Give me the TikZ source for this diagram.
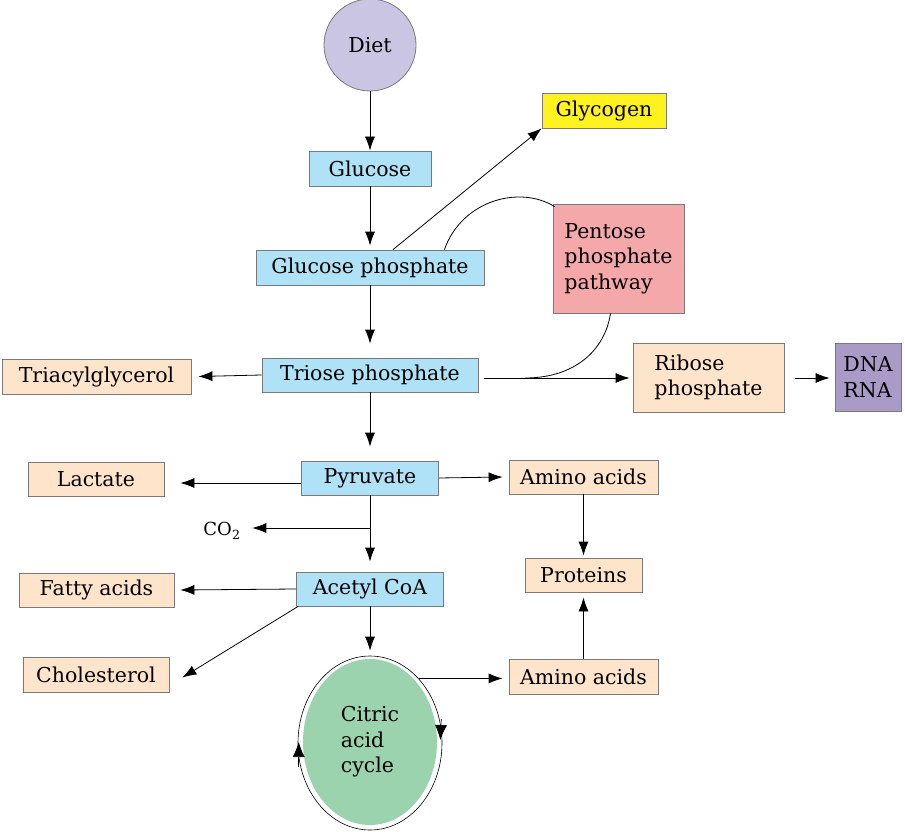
\documentclass[tikz,border=0pt]{standalone}
\usepackage{fontspec}
\setmainfont{DejaVu Serif}
\usetikzlibrary{calc,arrows.meta,positioning,shapes.geometric}

\definecolor{dietlav}{HTML}{C9C5E3}
\definecolor{glublue}{HTML}{B0E2F7}
\definecolor{glyyel}{HTML}{FFF21E}
\definecolor{pentpink}{HTML}{F4A8AA}
\definecolor{peach}{HTML}{FFE4CC}
\definecolor{nucpurp}{HTML}{A99AC6}
\definecolor{tcagreen}{HTML}{9AD3AD}
\definecolor{edge}{HTML}{7A7A7A}

\begin{document}
\begin{tikzpicture}[x=1pt, y=-1pt, line width=0.8pt,
    every node/.style={font=\fontsize{20.5}{25.5}\selectfont},
    box/.style={draw=edge, line width=0.8pt, inner sep=0pt, align=left},
    arr/.style={-{Latex[length=14pt,width=10pt]}},
    cycarr/.style={-{Latex[length=15pt,width=12pt]}, line width=0.6pt}]
    \useasboundingbox (0,0) rectangle (905,832);

    % Main pathway
    \node[circle, draw=edge, fill=dietlav, minimum size=92pt, inner sep=0pt] (diet) at (370,45) {Diet};
    \node[box, fill=glublue, minimum width=122pt, minimum height=35pt] (glu) at (370,168.5) {Glucose};
    \node[box, fill=glyyel, minimum width=124pt, minimum height=35pt] (glyc) at (604,110.5) {Glycogen};
    \node[box, fill=glublue, minimum width=228pt, minimum height=35pt] (gp) at (370,267.5) {Glucose phosphate};
    \node[box, fill=pentpink, minimum width=131pt, minimum height=109pt] (ppp) at (618.5,258.5) {Pentose\\phosphate\\pathway};
    \node[box, fill=glublue, minimum width=216pt, minimum height=34pt] (tp) at (370,375) {Triose phosphate};
    \node[box, fill=peach, minimum width=189pt, minimum height=35pt] (tag) at (96.5,376.5) {Triacylglycerol};
    \node[box, fill=peach, minimum width=151pt, minimum height=69pt] (rib) at (708.5,377.5) {Ribose\\phosphate};
    \node[box, fill=nucpurp, minimum width=66pt, minimum height=68pt] (dna) at (868,377) {DNA\\RNA};
    \node[box, fill=glublue, minimum width=137pt, minimum height=34pt] (pyr) at (370,478) {Pyruvate};
    \node[box, fill=peach, minimum width=136pt, minimum height=34pt] (lac) at (96,479) {Lactate};
    \node[box, fill=peach, minimum width=149pt, minimum height=34pt] (amtop) at (583.5,477) {Amino acids};
    \node[font=\fontsize{18}{20}\selectfont] (co2) at (222,531) {CO\textsubscript{2}};
    \node[box, fill=glublue, minimum width=147pt, minimum height=34pt] (acoa) at (370,589) {Acetyl CoA};
    \node[box, fill=peach, minimum width=155pt, minimum height=34pt] (fat) at (96.5,590) {Fatty acids};
    \node[box, fill=peach, minimum width=117pt, minimum height=34pt] (prot) at (583.5,575) {Proteins};
    \node[box, fill=peach, minimum width=146pt, minimum height=35pt] (chol) at (96,674.5) {Cholesterol};
    \node[box, fill=peach, minimum width=149pt, minimum height=35pt] (ambot) at (583.5,676.5) {Amino acids};

    % Citric acid cycle
    \node[ellipse, fill=tcagreen, minimum width=134pt, minimum height=166pt, inner sep=0pt, align=left] (tca) at (370,742) {Citric\\acid\\cycle};
    \node[ellipse, draw, line width=0.6pt, minimum width=144pt, minimum height=174pt, inner sep=0pt] (ring) at (370,743) {};
    \draw[cycarr] ($(ring.east)+(-1,-24)$) -- ($(ring.east)+(-2,-3)$);
    \draw[cycarr] ($(ring.west)+(1,24)$) -- ($(ring.west)+(1,-1)$);

    % Connectors
    \draw[arr] (diet) -- (glu);
    \draw[arr] (glu) -- ([yshift=4pt]gp.north);
    \draw[arr] ([xshift=23pt]gp.north) -- (glyc.south west);
    \draw ([xshift=-40pt]gp.north east) .. controls (462,200) and (520,185) .. ([xshift=2pt,yshift=-3pt]ppp.north west);
    \draw[arr] (gp) -- ([yshift=14pt]tp.north);
    \coordinate (join) at (525,378);
    \draw ([xshift=-8pt]ppp.south) .. controls (605,350) and (575,378) .. (join);
    \draw[arr] ([xshift=6pt]tp.east |- join) -- ([xshift=-3pt]rib.west |- join);
    \draw[arr] ([xshift=11pt]rib.east |- join) -- ([xshift=-5pt]dna.west |- join);
    \draw[arr] (tp.west) -- ([xshift=7pt]tag.east);
    \draw[arr] (tp) -- ([yshift=14pt]pyr.north);
    \coordinate (lacout) at ([yshift=-5pt]pyr.west);
    \draw[arr] (lacout) -- ([xshift=16pt]lac.east |- lacout);
    \draw[arr] (pyr.east) -- ([xshift=-6pt]amtop.west);
    \draw[arr] (pyr) -- ([yshift=10pt]acoa.north);
    \coordinate (split) at (pyr.south |- co2);
    \draw[arr] ([yshift=3pt]split) -- ([xshift=8pt,yshift=3pt]co2.east);
    \draw[arr] (acoa.west) -- ([xshift=6pt]fat.east);
    \draw[arr] ([xshift=2pt]acoa.south west) -- ([xshift=13pt,yshift=-3pt]chol.east);
    \draw[arr] (acoa) -- ([yshift=5pt]ring.north);
    \draw[arr] (amtop) -- ([yshift=2pt]prot.north);
    \draw[arr] (ambot) -- ([yshift=-5pt]prot.south);
    \draw[arr] (ring.53) -- ([xshift=-6pt]ambot.west |- ring.53);
\end{tikzpicture}
\end{document}
